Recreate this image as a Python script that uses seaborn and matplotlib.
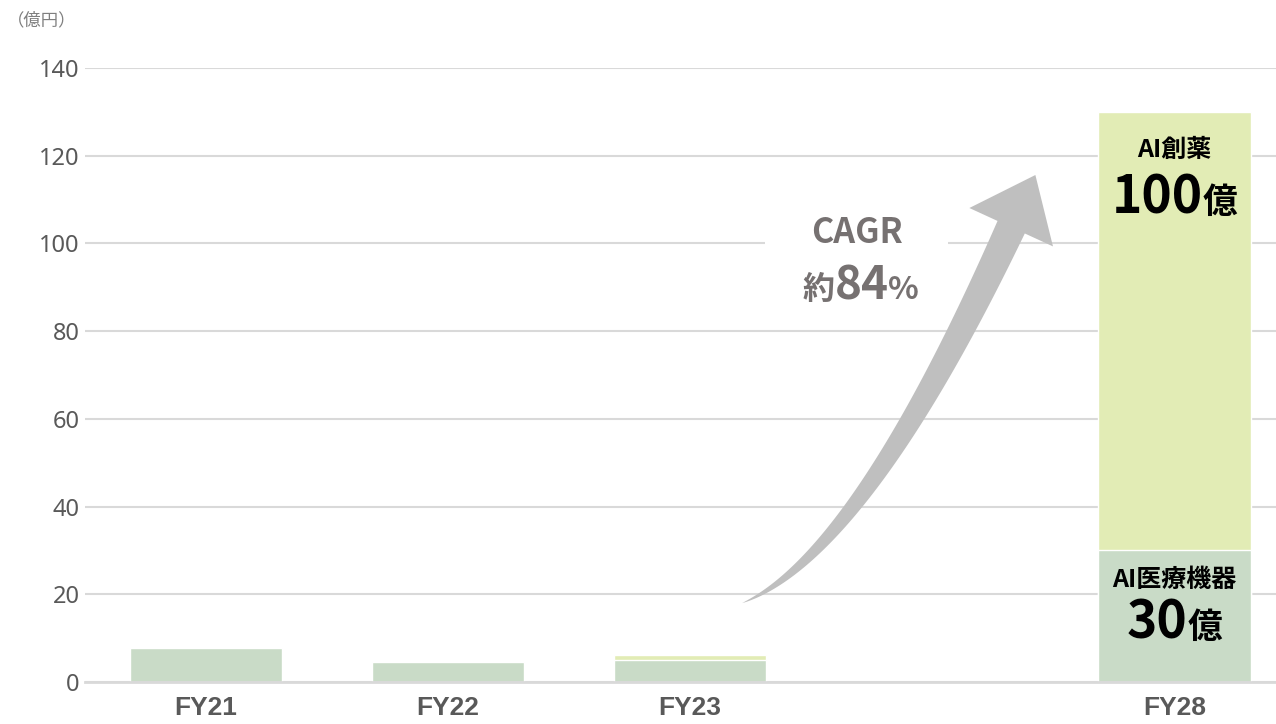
# Stacked bar chart: AI medical devices + AI drug discovery revenue, FY21-FY28

import numpy as np
import pandas as pd
import matplotlib.pyplot as plt
import matplotlib.transforms as mtransforms
from matplotlib.patches import Polygon, Rectangle
import seaborn as sns

# data (億円)
years = ["FY21", "FY22", "FY23", "FY28"]
medical = [7.8, 4.6, 5.0, 30]      # AI医療機器
drug = [0.0, 0.0, 1.2, 100]        # AI創薬
order = ["FY21", "FY22", "FY23", "", "FY28"]   # blank slot before FY28
y_ticks = [0, 20, 40, 60, 80, 100, 120, 140]

df = pd.DataFrame({"year": years, "medical": medical, "drug": drug})
df["total"] = df["medical"] + df["drug"]

sns.set_theme(style="white")
plt.rcParams['font.family'] = ['Noto Sans CJK JP', 'DejaVu Sans']

green = "#c9dbc7"
yellow = "#e2ecb5"
gray_txt = "#595959"

fig = plt.figure(figsize=(12.76, 7.24), dpi=100)
ax = fig.add_axes([85 / 1276, 1 - 682 / 724, 1 - 85 / 1276, (682 - 68) / 724])

# total first (yellow), then the medical part on top of it (green)
sns.barplot(data=df, x="year", y="total", order=order, color=yellow,
            width=0.63, saturation=1, ax=ax)
sns.barplot(data=df, x="year", y="medical", order=order, color=green,
            width=0.63, saturation=1, ax=ax)

ax.set_xlim(-0.5, 4.42)
ax.set_ylim(0, 140)
ax.set_yticks(y_ticks)
ax.set_xlabel("")
ax.set_ylabel("")
ax.set_axisbelow(True)
ax.yaxis.grid(True, color="#d9d9d9", linewidth=1.5)
for s in ["top", "right", "left"]:
    ax.spines[s].set_visible(False)
ax.spines["bottom"].set_color("#d9d9d9")
ax.spines["bottom"].set_linewidth(2)
ax.tick_params(axis="both", length=0)
ax.tick_params(axis="y", labelsize=17, labelcolor=gray_txt, pad=4)
ax.tick_params(axis="x", pad=10)
for lab in ax.get_yticklabels():
    lab.set_family(['Noto Sans', 'DejaVu Sans'])
for lab in ax.get_xticklabels():
    lab.set_fontsize(19)
    lab.set_fontweight("bold")
    lab.set_color(gray_txt)
    lab.set_family(['Liberation Sans', 'DejaVu Sans'])

fig.text(42 / 1276, 1 - 20 / 724, "（億円）", fontsize=12.5, color="#7f7f7f",
         ha="center", va="center")

fig.canvas.draw()
renderer = fig.canvas.get_renderer()


def place_pieces(x, y, pieces, color):
    # pieces: list of (text, size); group is centred on x, sits on baseline y
    texts = []
    widths = []
    for s, size in pieces:
        t = ax.text(x, y, s, fontsize=size, fontweight="bold", color=color,
                    ha="left", va="baseline", zorder=5)
        texts.append(t)
        widths.append(t.get_window_extent(renderer).width)
    start = -sum(widths) / 2
    for t, w in zip(texts, widths):
        t.set_transform(mtransforms.offset_copy(ax.transData, fig=fig, x=start, units="dots"))
        start += w


# labels inside the FY28 bar
ax.text(4, 121.3, "AI創薬", fontsize=18, fontweight="bold", color="black",
        ha="center", va="center", zorder=5)
place_pieces(4, 106.9, [("100", 37), ("億", 25)], "black")
ax.text(4, 23.3, "AI医療機器", fontsize=18, fontweight="bold", color="black",
        ha="center", va="center", zorder=5)
place_pieces(4, 10.0, [("30", 37), ("億", 25)], "black")

# CAGR note with white background over the grid
ax.add_patch(Rectangle((2.31, 84.8), 0.756, 24, facecolor="white",
                       edgecolor="none", zorder=1.5))
ax.text(2.69, 102.4, "CAGR", fontsize=24.5, fontweight="bold", color="#767171",
        ha="center", va="center", zorder=5)
place_pieces(2.705, 87.3, [("約", 23), ("84", 33), ("%", 23)], "#767171")

# curved growth arrow, built in display space so the width is even
P0 = ax.transData.transform((2.215, 18.0))
P1 = ax.transData.transform((2.702, 28.7))
P2 = ax.transData.transform((3.326, 103.7))
tip = ax.transData.transform((3.426, 115.6))
t = np.linspace(0, 1, 80)[:, None]
curve = (1 - t) ** 2 * P0 + 2 * (1 - t) * t * P1 + t ** 2 * P2
deriv = 2 * (1 - t) * (P1 - P0) + 2 * t * (P2 - P1)
tang = deriv / np.linalg.norm(deriv, axis=1)[:, None]
norm = np.column_stack([-tang[:, 1], tang[:, 0]])
half = 15 * t[:, 0] ** 0.85
left = curve + norm * half[:, None]
right = curve - norm * half[:, None]
hn = norm[-1]
head_l = P2 + hn * 46
head_r = P2 - hn * 46
pts = np.vstack([left, head_l, tip, head_r, right[::-1]])
pts = ax.transData.inverted().transform(pts)
ax.add_patch(Polygon(pts, closed=True, facecolor="#bfbfbf", edgecolor="none", zorder=4))

fig.savefig("out.png", dpi=100)
